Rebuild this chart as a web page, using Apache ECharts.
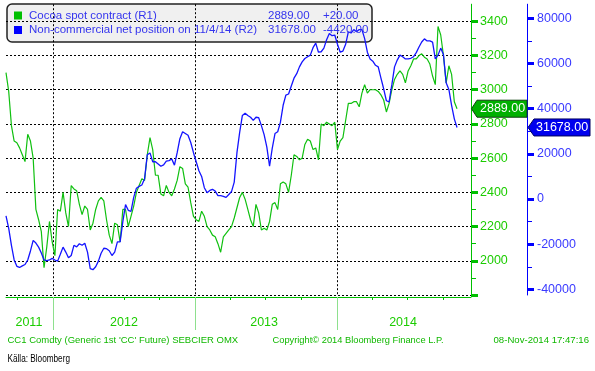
<!DOCTYPE html>
<html><head><meta charset="utf-8">
<script src="https://cdn.jsdelivr.net/npm/echarts@6/dist/echarts.min.js"></script>
<style>html,body{margin:0;padding:0;background:#fff}#c{width:595px;height:371px}</style>
</head><body><div id="c"></div>
<script>
const weeks = [
'2011-09-01','2011-09-08','2011-09-15','2011-09-22','2011-09-29','2011-10-06','2011-10-13','2011-10-20','2011-10-27',
'2011-11-03','2011-11-10','2011-11-17','2011-11-24','2011-12-01','2011-12-08','2011-12-15','2011-12-22','2011-12-29',
'2012-01-05','2012-01-12','2012-01-19','2012-01-26','2012-02-02','2012-02-09','2012-02-16','2012-02-23',
'2012-03-01','2012-03-08','2012-03-15','2012-03-22','2012-03-29','2012-04-05','2012-04-12','2012-04-19','2012-04-26',
'2012-05-03','2012-05-10','2012-05-17','2012-05-24','2012-05-31','2012-06-07','2012-06-14','2012-06-21','2012-06-28',
'2012-07-05','2012-07-12','2012-07-19','2012-07-26','2012-08-02','2012-08-09','2012-08-16','2012-08-23','2012-08-30',
'2012-09-06','2012-09-13','2012-09-20','2012-09-27','2012-10-04','2012-10-11','2012-10-18','2012-10-25',
'2012-11-01','2012-11-08','2012-11-15','2012-11-22','2012-11-29','2012-12-06','2012-12-13','2012-12-20','2012-12-27',
'2013-01-03','2013-01-10','2013-01-17','2013-01-24','2013-01-31','2013-02-07','2013-02-14','2013-02-21','2013-02-28',
'2013-03-07','2013-03-14','2013-03-21','2013-03-28','2013-04-04','2013-04-11','2013-04-18','2013-04-25',
'2013-05-02','2013-05-09','2013-05-16','2013-05-23','2013-05-30','2013-06-06','2013-06-13','2013-06-20','2013-06-27',
'2013-07-04','2013-07-11','2013-07-18','2013-07-25','2013-08-01','2013-08-08','2013-08-15','2013-08-22','2013-08-29',
'2013-09-05','2013-09-12','2013-09-19','2013-09-26','2013-10-03','2013-10-10','2013-10-17','2013-10-24','2013-10-31',
'2013-11-07','2013-11-14','2013-11-21','2013-11-28','2013-12-05','2013-12-12','2013-12-19','2013-12-26',
'2014-01-02','2014-01-09','2014-01-16','2014-01-23','2014-01-30','2014-02-06','2014-02-13','2014-02-20','2014-02-27',
'2014-03-06','2014-03-13','2014-03-20','2014-03-27','2014-04-03','2014-04-10','2014-04-17','2014-04-24',
'2014-05-01','2014-05-08','2014-05-15','2014-05-22','2014-05-29','2014-06-05','2014-06-12','2014-06-19','2014-06-26',
'2014-07-03','2014-07-10','2014-07-17','2014-07-24','2014-07-31','2014-08-07','2014-08-14','2014-08-21','2014-08-28',
'2014-09-04','2014-09-11','2014-09-18','2014-09-25','2014-10-02','2014-10-09','2014-10-16','2014-10-23','2014-10-30',
'2014-11-06'];

const cocoa = [
3100,2990,2790,2700,2690,2660,2620,2580,2740,2700,
2600,2300,2240,2170,1960,2080,2230,2110,2030,2300,
2290,2400,2280,2200,2440,2420,2410,2330,2270,2320,
2300,2180,2220,2300,2350,2370,2350,2240,2150,2100,
2220,2210,2110,2300,2300,2200,2260,2320,2400,2440,
2480,2470,2620,2720,2650,2500,2500,2390,2380,2440,
2400,2380,2420,2470,2550,2540,2450,2430,2340,2260,
2240,2230,2290,2260,2200,2180,2150,2140,2100,2050,
2140,2160,2180,2200,2250,2310,2370,2400,2360,2300,
2240,2200,2330,2280,2180,2190,2180,2230,2330,2340,
2300,2450,2460,2450,2400,2500,2620,2610,2590,2600,
2680,2710,2700,2650,2660,2590,2800,2790,2810,2800,
2790,2810,2650,2700,2720,2820,2920,2920,2930,2930,
2900,2980,3030,2980,3000,3000,3000,2990,2970,2940,
2870,2920,3000,3060,3090,3110,3090,3040,3110,3140,
3180,3180,3200,3210,3190,3180,3150,3080,3030,3370,
3320,3200,3040,3140,3090,2930,2889];

const netPosition = [
-7500,-13000,-20500,-27000,-29800,-30300,-29600,-29000,-27000,-23000,
-18300,-19500,-21300,-23900,-27000,-27300,-27000,-26300,-27000,-27500,
-24500,-21300,-23500,-26000,-25000,-20500,-21200,-19800,-20500,-19600,
-23500,-30800,-31300,-30000,-27500,-24000,-21800,-22000,-22900,-25000,
-23500,-19000,-19000,-10000,-2500,-5000,-5500,700,4800,5600,
6200,9000,19600,20400,16500,16500,15500,14500,15100,16800,
17000,17700,15000,20500,26700,29800,29000,28200,25000,20500,
16500,12500,10000,5000,2800,3800,4300,3500,1500,1500,
1200,700,2000,3300,7500,20500,29500,37000,38000,37000,
36200,34800,36200,36000,32500,28500,23000,14500,22500,29000,
29800,34000,41500,46000,46500,50000,53500,55500,58500,60700,
62200,63000,63700,67000,69000,65000,65200,66800,70500,73300,
72300,72600,68500,65000,65500,68500,74000,73500,75000,74000,
75000,75000,71000,65000,62000,61000,59200,58500,53500,48800,
43500,43000,50500,58500,61500,63700,63000,62000,62000,62300,
63000,64800,67300,69500,70900,70000,70000,69500,62000,63700,
66800,64000,51500,48500,41500,35500,31678];

const cocoaTicks = [1800,2000,2200,2400,2600,2800,3000,3200,3400];
const cocoaLabels = [2000,2200,2400,2600,2800,3000,3200,3400];
const cocoaMinor = [1900,2100,2300,2500,2700,2900,3100,3300];
const netTicks = [-40000,-20000,0,20000,40000,60000,80000];
const netMinor = [-30000,-10000,10000,30000,50000,70000];
const quarterTicks = ['2011-10-01','2012-01-01','2012-04-01','2012-07-01','2012-10-01','2013-01-01','2013-04-01','2013-07-01','2013-10-01','2014-01-01','2014-04-01','2014-07-01','2014-10-01'];
const yearStarts = ['2012-01-01','2013-01-01','2014-01-01'];
const yearLabelDates = ['2011-10-30','2012-07-01','2013-06-27','2014-06-20'];
const legendNames = ['Cocoa spot contract (R1)','Non-commercial net position on 11/4/14 (R2)'];
const legendLast = ['2889.00','31678.00'];
const legendChange = ['+20.00','-4420.00'];
const footer = ["CC1 Comdty (Generic 1st 'CC' Future) SEBCIER OMX",'Copyright\u00A9 2014 Bloomberg Finance L.P.','08-Nov-2014 17:47:16'];
const source = 'K\u00E4lla: Bloomberg';

const FONT = '"Liberation Sans", Arial, sans-serif';
const GREEN = '#00c000', BLUE = '#1414ff';
const ts = d => new Date(d + 'T00:00:00').getTime();
const xMin = ts('2011-09-01'), xMax = ts('2014-12-12');
const plain = v => String(v);

const chart = echarts.init(document.getElementById('c'), null, {renderer:'canvas'});
const xBase = {type:'value', min:xMin, max:xMax, position:'bottom', offset:2, scale:true};
const gY = {type:'value', min:1800, max:3500, position:'right'};
const bY = {type:'value', min:-42500, max:86250, position:'right', offset:56};
const option = {
  animation:false,
  backgroundColor:'#fff',
  grid:{left:6, right:124, top:4.2, bottom:76, containLabel:false},
  xAxis:[
    Object.assign({}, xBase, {
      axisLine:{show:true, onZero:false, lineStyle:{color:GREEN, width:1}},
      axisTick:{show:true, customValues:quarterTicks.map(ts), length:3, lineStyle:{color:GREEN}},
      axisLabel:{show:false}, splitLine:{show:false}}),
    Object.assign({}, xBase, {
      axisLine:{show:false, onZero:false},
      axisTick:{show:true, customValues:yearStarts.map(ts), length:33, lineStyle:{color:'#8ee08e'}},
      axisLabel:{show:true, customValues:yearLabelDates.map(ts), formatter:v=>String(new Date(v).getFullYear()),
        margin:19, color:'#1ccc00', fontSize:12.5, fontFamily:FONT},
      splitLine:{show:true, lineStyle:{color:'#000', type:[2,2], width:1}}})
  ],
  yAxis:[
    Object.assign({}, gY, {
      axisLine:{show:true, onZero:false, lineStyle:{color:GREEN, width:1}},
      axisTick:{show:true, customValues:cocoaTicks, length:7, lineStyle:{color:GREEN, width:3}},
      axisLabel:{show:true, customValues:cocoaLabels, formatter:plain, margin:9, color:'#1ccc00', fontSize:12.5, fontFamily:FONT},
      splitLine:{show:true, lineStyle:{color:'#000', type:[2,2], width:1}}}),
    Object.assign({}, gY, {
      axisLine:{show:false, onZero:false},
      axisTick:{show:true, customValues:cocoaMinor, length:5, lineStyle:{color:GREEN, width:1}},
      axisLabel:{show:false}, splitLine:{show:false}}),
    Object.assign({}, bY, {
      axisLine:{show:true, onZero:false, lineStyle:{color:'#0000ff', width:1}},
      axisTick:{show:true, customValues:netTicks, length:7, lineStyle:{color:'#0000ff', width:3}},
      axisLabel:{show:true, customValues:netTicks, formatter:plain, margin:10, color:'#3a3aff', fontSize:12.5, fontFamily:FONT},
      splitLine:{show:false}}),
    Object.assign({}, bY, {
      axisLine:{show:false, onZero:false},
      axisTick:{show:true, customValues:netMinor, length:5, lineStyle:{color:'#0000ff', width:1}},
      axisLabel:{show:false}, splitLine:{show:false}})
  ],
  series:[
    {type:'line', name:legendNames[0], xAxisIndex:0, yAxisIndex:0, showSymbol:false, symbol:'none',
     data:weeks.map((d,i)=>[ts(d), cocoa[i]]), lineStyle:{color:'#10c010', width:1.2}, itemStyle:{color:'#10c010'}, z:3},
    {type:'line', name:legendNames[1], xAxisIndex:0, yAxisIndex:2, showSymbol:false, symbol:'none',
     data:weeks.map((d,i)=>[ts(d), netPosition[i]]), lineStyle:{color:BLUE, width:1.3}, itemStyle:{color:BLUE}, z:4}
  ]
};
chart.setOption(option);

const ax = chart.convertToPixel({xAxisIndex:0}, xMax);
const yG = chart.convertToPixel({yAxisIndex:0}, cocoa[cocoa.length-1]);
const yB = chart.convertToPixel({yAxisIndex:2}, netPosition[netPosition.length-1]);
const ax2 = ax + 57;
const lf = '11.5px ' + FONT;
const txt = (text, x, y, fill, font, align) => ({type:'text', z:100, style:{text, x, y, fill, font, align:align||'left', verticalAlign:'middle'}});
chart.setOption({graphic:[
  {type:'rect', z:-10, shape:{x:7, y:4, width:365, height:38, r:5}, style:{fill:'#f0f0f0', stroke:'#222', lineWidth:1.5}},
  {type:'rect', z:100, shape:{x:14, y:11.5, width:8, height:8}, style:{fill:'#00c000'}},
  {type:'rect', z:100, shape:{x:14, y:26, width:8, height:8}, style:{fill:'#0000ff'}},
  txt(legendNames[0], 29, 15.7, '#3434ee', lf),
  txt(legendNames[1], 29, 30, '#3434ee', lf),
  txt(legendLast[0], 268, 15.7, '#3434ee', lf),
  txt(legendLast[1], 268, 30, '#3434ee', lf),
  txt(legendChange[0], 323, 15.7, '#3434ee', lf),
  txt(legendChange[1], 323, 30, '#3434ee', lf),
  {type:'polygon', z:100, shape:{points:[[ax+0.5,yG],[ax+6,yG-8.5],[ax+56,yG-8.5],[ax+56,yG+8.5],[ax+6,yG+8.5]]}, style:{fill:'#00b000', stroke:'#104010', lineWidth:1}},
  txt(legendLast[0], ax+9, yG, '#fff', '12.5px ' + FONT),
  {type:'polygon', z:100, shape:{points:[[ax2,yB],[ax2+6,yB-8.5],[ax2+62,yB-8.5],[ax2+62,yB+8.5],[ax2+6,yB+8.5]]}, style:{fill:'#0000ee', stroke:'#000060', lineWidth:1}},
  txt(legendLast[1], ax2+8, yB, '#fff', '12.5px ' + FONT),
  txt(footer[0], 7.5, 340, '#10b800', '9.5px ' + FONT),
  txt(footer[1], 272.5, 340, '#10b800', '9.3px ' + FONT),
  txt(footer[2], 589, 340, '#10b800', '9.6px ' + FONT, 'right'),
  {type:'text', z:100, x:7.5, y:359, scaleX:0.82, style:{text:source, x:0, y:0, fill:'#000', font:'10px ' + FONT, align:'left', verticalAlign:'middle'}}
]});
</script></body></html>
